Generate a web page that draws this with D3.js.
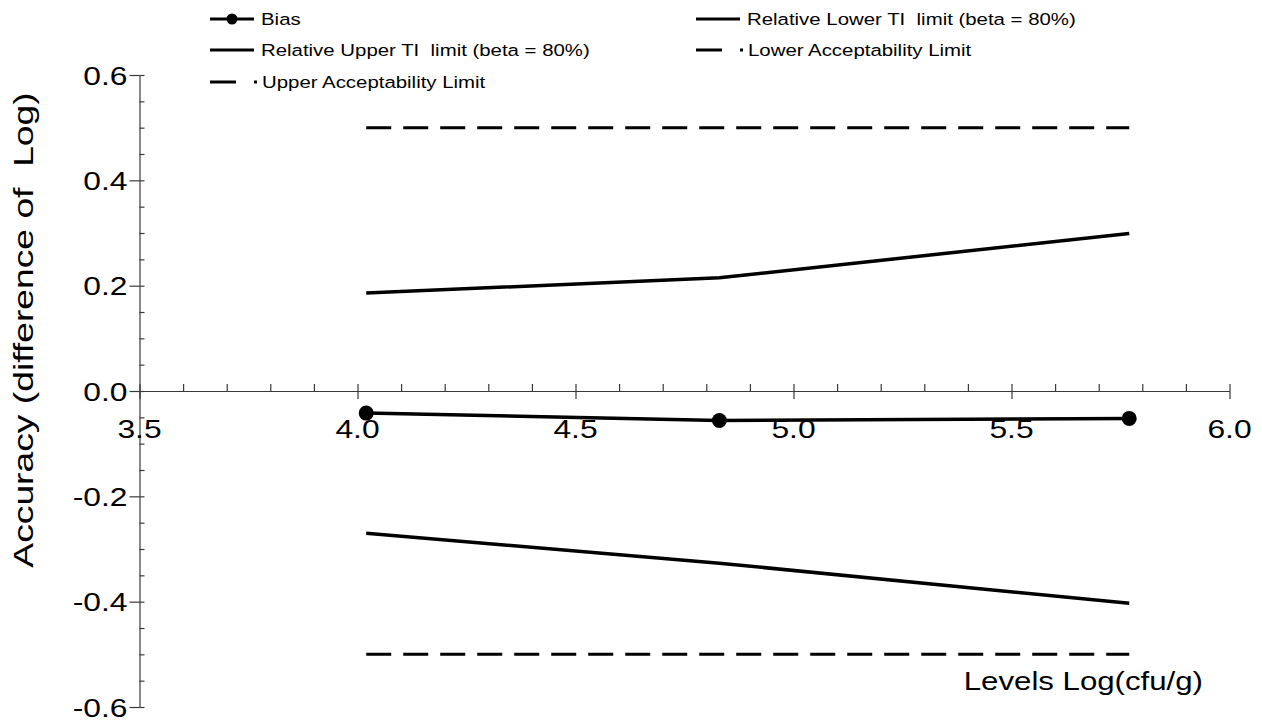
<!DOCTYPE html>
<html>
<head>
<meta charset="utf-8">
<script src="https://cdn.jsdelivr.net/npm/d3@7"></script>
<style>
  html, body { margin: 0; padding: 0; background: #ffffff; }
  svg { display: block; }
  text { font-family: "Liberation Sans", Arial, sans-serif; fill: #000; white-space: pre; }
</style>
</head>
<body>
<script>
// ---------------- data ----------------
const levels = [4.02, 4.83, 5.77];
const bias = [-0.042, -0.056, -0.052];
const upperTI = [0.186, 0.215, 0.299];
const lowerTI = [-0.270, -0.327, -0.403];
const upperAL = [0.5, 0.5, 0.5];
const lowerAL = [-0.5, -0.5, -0.5];

const xTickValues = [3.5, 4.0, 4.5, 5.0, 5.5, 6.0];
const xTickLabels = ["3.5", "4.0", "4.5", "5.0", "5.5", "6.0"];
const yTickValues = [-0.6, -0.4, -0.2, 0.0, 0.2, 0.4, 0.6];
const yTickLabels = ["-0.6", "-0.4", "-0.2", "0.0", "0.2", "0.4", "0.6"];

const xTitle = "Levels Log(cfu/g)";
const yTitle = "Accuracy (difference of  Log)";

const legendItems = [
  { name: "Bias", kind: "marker", col: 0, row: 0 },
  { name: "Relative Lower TI  limit (beta = 80%)", kind: "solid", col: 1, row: 0 },
  { name: "Relative Upper TI  limit (beta = 80%)", kind: "solid", col: 0, row: 1 },
  { name: "Lower Acceptability Limit", kind: "dash", col: 1, row: 1 },
  { name: "Upper Acceptability Limit", kind: "dash", col: 0, row: 2 }
];

// ---------------- layout ----------------
const W = 1262, H = 722;
const svg = d3.select("body").append("svg").attr("width", W).attr("height", H);

const x = d3.scaleLinear().domain([3.5, 6.0]).range([139.5, 1229.5]);
const y = d3.scaleLinear().domain([-0.6, 0.6]).range([707, 75]);

const axisColor = "#3a3a3a";
const xMinor = d3.range(35, 61).map(d => d / 10);
const yMinor = d3.range(-12, 13).map(d => d / 20);

function styleAxis(g) {
  g.selectAll("path,line").attr("stroke", axisColor).attr("stroke-width", 1.2);
}

// x axis (at y = 0)
svg.append("g").attr("transform", `translate(0,${y(0)})`)
  .call(d3.axisTop(x).tickValues(xMinor).tickSize(7).tickSizeOuter(0).tickFormat(""))
  .call(styleAxis);
svg.append("g").attr("transform", `translate(0,${y(0)})`)
  .call(d3.axisBottom(x).tickValues(xTickValues).tickSize(8).tickFormat(""))
  .call(g => g.select(".domain").remove())
  .call(styleAxis);

// y axis (at x = 3.5)
svg.append("g").attr("transform", `translate(${x(3.5)},0)`)
  .call(d3.axisRight(y).tickValues(yMinor).tickSize(5).tickSizeOuter(0).tickFormat(""))
  .call(styleAxis);
svg.append("g").attr("transform", `translate(${x(3.5)},0)`)
  .call(d3.axisLeft(y).tickValues(yTickValues).tickSize(10).tickFormat(""))
  .call(g => g.select(".domain").remove())
  .call(styleAxis);

function stretchedText(parent, tx, ty, str, size, anchor, sx, rot) {
  return parent.append("text")
    .attr("transform", `translate(${tx},${ty})` + (rot ? ` rotate(${rot})` : "") + ` scale(${sx},1)`)
    .attr("text-anchor", anchor)
    .attr("xml:space", "preserve")
    .style("font-size", size + "px")
    .text(str);
}

// tick labels
xTickValues.forEach((v, i) => stretchedText(svg, x(v), y(0) + 47, xTickLabels[i], 26.5, "middle", 1.2));
yTickValues.forEach((v, i) => stretchedText(svg, x(3.5) - 12, y(v) + 9.5, yTickLabels[i], 26.5, "end", 1.2));

// axis titles
stretchedText(svg, 1203, 690, xTitle, 26, "end", 1.2);
stretchedText(svg, 33, 330, yTitle, 27, "middle", 1.38, -90);

// ---------------- series ----------------
const line = d3.line().x((d, i) => x(levels[i])).y(d => y(d));

svg.append("path").datum(upperAL).attr("d", line)
  .attr("fill", "none").attr("stroke", "#000").attr("stroke-width", 3).attr("stroke-dasharray", "25,12");
svg.append("path").datum(lowerAL).attr("d", line)
  .attr("fill", "none").attr("stroke", "#000").attr("stroke-width", 3).attr("stroke-dasharray", "25,12");
svg.append("path").datum(upperTI).attr("d", line)
  .attr("fill", "none").attr("stroke", "#000").attr("stroke-width", 3.5);
svg.append("path").datum(lowerTI).attr("d", line)
  .attr("fill", "none").attr("stroke", "#000").attr("stroke-width", 3.5);
svg.append("path").datum(bias).attr("d", line)
  .attr("fill", "none").attr("stroke", "#000").attr("stroke-width", 3.5);
svg.selectAll("circle.bias").data(bias).join("circle").attr("class", "bias")
  .attr("cx", (d, i) => x(levels[i])).attr("cy", d => y(d)).attr("r", 7.5).attr("fill", "#000");

// ---------------- legend ----------------
const colX = [210, 696];
const rowY = [19, 50, 82];
const lg = svg.append("g");
legendItems.forEach(it => {
  const lx = colX[it.col], ly = rowY[it.row];
  const g = lg.append("g").attr("transform", `translate(${lx},${ly})`);
  if (it.kind === "dash") {
    g.append("line").attr("x1", 0).attr("x2", 26).attr("y1", 0).attr("y2", 0)
      .attr("stroke", "#000").attr("stroke-width", 3);
    g.append("rect").attr("x", 44).attr("y", -1.5).attr("width", 3).attr("height", 3).attr("fill", "#000");
    stretchedText(g, 52, 6, it.name, 17, "start", 1.2);
  } else {
    g.append("line").attr("x1", 0).attr("x2", 44).attr("y1", 0).attr("y2", 0)
      .attr("stroke", "#000").attr("stroke-width", 3);
    if (it.kind === "marker") g.append("circle").attr("cx", 22).attr("cy", 0).attr("r", 5.5).attr("fill", "#000");
    stretchedText(g, 51, 6, it.name, 17, "start", 1.2);
  }
});
</script>
</body>
</html>
